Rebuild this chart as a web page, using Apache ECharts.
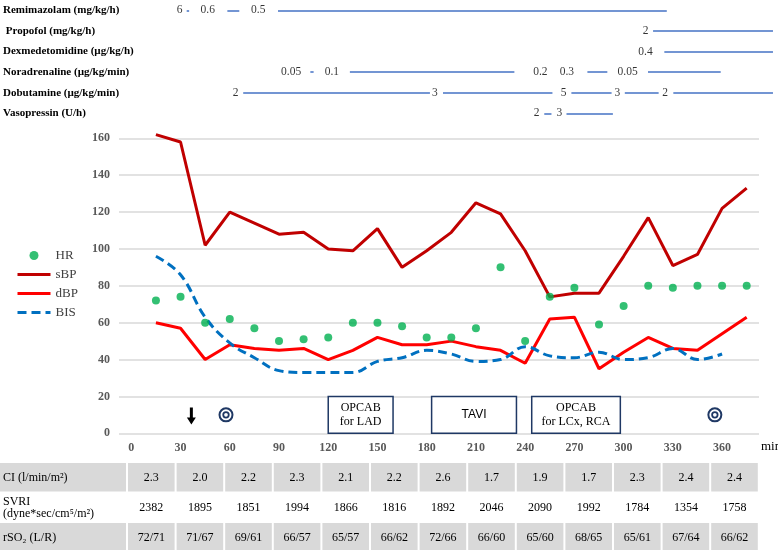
<!DOCTYPE html>
<html><head><meta charset="utf-8">
<script src="https://cdn.jsdelivr.net/npm/echarts@6/dist/echarts.min.js"></script>
<style>html,body{margin:0;padding:0;background:#fff}#c{width:778px;height:550px}</style>
</head><body><div id="c"></div>
<script>
// ---------- data ----------
const times = [15,30,45,60,75,90,105,120,135,150,165,180,195,210,225,240,255,270,285,300,315,330,345,360,375];
const hrValues  = [72,74,60,62,57,50,51,52,60,60,58,52,52,57,90,50,74,79,59,69,80,79,80,80,80];
const sbpValues = [162,158,102,120,114,108,109,100,99,111,90,99,109,125,119,99,74,76,76,96,117,91,97,122,133];
const dbpValues = [60,57,40,48,46,45,46,40,45,52,48,48,50,47,45,38,62,63,35,44,52,46,45,54,63];
const bisValues = [96,86,63,49,41,34,33,33,33,39,41,45,43,39,40,47,42,41,44,40,41,46,40,43,null];
const yTicks = [0,20,40,60,80,100,120,140,160];
const xTickLabels = [0,30,60,90,120,150,180,210,240,270,300,330,360];

const drugNames = ['Remimazolam (mg/kg/h)',' Propofol (mg/kg/h)','Dexmedetomidine (µg/kg/h)','Noradrenaline (µg/kg/min)','Dobutamine (µg/kg/min)','Vasopressin (U/h)'];
// dose labels: [time(min), text]; infusion segments: [start, end] in min
const remimazolamLabels = [[27.7,'6'],[45,'0.6'],[75.9,'0.5']];
const remimazolamSegs   = [[32.1,33.6],[57,64.3],[88,326]];
const propofolLabels    = [[313,'2']];
const propofolSegs      = [[317.6,391]];
const dexLabels         = [[313,'0.4']];
const dexSegs           = [[324.5,391]];
const noradLabels       = [[96,'0.05'],[121,'0.1'],[248.6,'0.2'],[264.8,'0.3'],[302,'0.05']];
const noradSegs         = [[107.8,109.8],[132,232.7],[277.4,289.6],[314.5,359]];
const dobutLabels       = [[62,'2'],[184,'3'],[262.8,'5'],[295.7,'3'],[325,'2']];
const dobutSegs         = [[66.7,181],[189,256],[267.6,292.2],[300.3,321],[330,391]];
const vasoLabels        = [[246.3,'2'],[260.3,'3']];
const vasoSegs          = [[251,255.4],[264.6,293]];

// events
const eventBoxes = [[120,159.5,'OPCAB\nfor LAD'],[183,234.7,'TAVI'],[244,298,'OPCAB\nfor LCx, RCA']];
const arrowMark = [36.6, 9.4];
const circleMarks = [[57.7,10],[355.6,10]];

// table
const tableRowLabels = ['CI (l/min/m²)','SVRI\n(dyne*sec/cm⁵/m²)','rSO₂ (L/R)'];
const ciValues   = ['2.3','2.0','2.2','2.3','2.1','2.2','2.6','1.7','1.9','1.7','2.3','2.4','2.4'];
const svriValues = ['2382','1895','1851','1994','1866','1816','1892','2046','2090','1992','1784','1354','1758'];
const rso2Values = ['72/71','71/67','69/61','66/57','65/57','66/62','72/66','66/60','65/60','68/65','65/61','67/64','66/62'];

// ---------- build ----------
const SERIF = "'Liberation Serif','Times New Roman',serif";
const NAVY = '#1F3864';
const pairs = (arr) => times.map((t,i)=>[t,arr[i]]).filter(p=>p[1]!=null);

const drugLabelSets = [remimazolamLabels,propofolLabels,dexLabels,noradLabels,dobutLabels,vasoLabels];
const drugSegSets = [remimazolamSegs,propofolSegs,dexSegs,noradSegs,dobutSegs,vasoSegs];
const drugLineData = [];
const drugTextData = [];
drugSegSets.forEach((segs,row)=>segs.forEach(s=>drugLineData.push({coords:[[s[0],row],[s[1],row]]})));
drugLabelSets.forEach((labs,row)=>labs.forEach(l=>drugTextData.push({value:[l[0],row],name:l[1]})));

const pxPerMin = 640/390;
const topMax = -7.5 + 659/pxPerMin;

// table graphic
const tTop = 463, rowH = 30, labelW = 127, colW = 48.6;
const tableRows = [ciValues, svriValues, rso2Values];
const rowFill = ['#D9D9D9','#FFFFFF','#D9D9D9'];
const graphics = [];
tableRows.forEach((vals,r)=>{
  const y = tTop + r*rowH;
  graphics.push({type:'rect',shape:{x:0,y:y,width:labelW-1,height:rowH-1.5},style:{fill:rowFill[r]},silent:true});
  graphics.push({type:'text',style:{x:3,y:y+rowH/2,text:tableRowLabels[r],font:'12px '+SERIF,fill:'#000',verticalAlign:'middle',align:'left',lineHeight:12},silent:true});
  vals.forEach((v,c)=>{
    const x = labelW + c*colW;
    graphics.push({type:'rect',shape:{x:x+1,y:y,width:colW-2,height:rowH-1.5},style:{fill:rowFill[r]},silent:true});
    graphics.push({type:'text',style:{x:x+colW/2,y:y+rowH/2,text:v,font:'12px '+SERIF,fill:'#000',align:'center',verticalAlign:'middle'},silent:true});
  });
});
graphics.push({type:'text',style:{x:761,y:447,text:'min',font:'13px '+SERIF,fill:'#000',verticalAlign:'middle',align:'left'},silent:true});

const lineLegend = (name)=>({name:name,itemStyle:{opacity:0},lineStyle:{width:3}});
const chart = echarts.init(document.getElementById('c'));
chart.setOption({
  animation:false,
  backgroundColor:'#fff',
  textStyle:{fontFamily:SERIF},
  legend:{
    data:['HR',lineLegend('sBP'),lineLegend('dBP'),lineLegend('BIS')],
    orient:'vertical', left:16, top:249, padding:0,
    itemWidth:33, itemHeight:9, itemGap:6,
    textStyle:{fontFamily:SERIF,fontSize:13,color:'#404040'}
  },
  grid:[
    {left:119, width:640, top:138.3, height:295},
    {left:119, width:659, top:-4.7, height:128.4}
  ],
  xAxis:[
    {type:'value',gridIndex:0,min:-7.5,max:382.5,interval:7.5,
     axisLine:{show:false},axisTick:{show:false},splitLine:{show:false},
     axisLabel:{margin:9,fontFamily:SERIF,fontWeight:'bold',fontSize:12,color:'#595959',
       formatter:(v)=> (xTickLabels.indexOf(Math.round(v))>=0 && Math.abs(v-Math.round(v))<1e-6) ? String(Math.round(v)) : ''}},
    {type:'value',gridIndex:1,min:-7.5,max:topMax,show:false}
  ],
  yAxis:[
    {type:'value',gridIndex:0,min:yTicks[0],max:yTicks[yTicks.length-1],interval:20,
     axisLine:{show:false},axisTick:{show:false},
     splitLine:{lineStyle:{color:'#D9D9D9',width:1.5}},
     axisLabel:{margin:9,fontFamily:SERIF,fontWeight:'bold',fontSize:12,color:'#595959'}},
    {type:'category',gridIndex:1,data:drugNames,inverse:true,
     axisLine:{show:false},axisTick:{show:false},splitLine:{show:false},
     axisLabel:{interval:0,align:'left',margin:119,fontFamily:SERIF,fontWeight:'bold',fontSize:11,color:'#000'}}
  ],
  series:[
    {name:'HR',type:'scatter',data:pairs(hrValues),symbolSize:8,itemStyle:{color:'#00B050'},z:5},
    {name:'sBP',type:'line',data:pairs(sbpValues),symbol:'none',clip:false,lineStyle:{color:'#C00000',width:3},itemStyle:{color:'#C00000'},z:3},
    {name:'dBP',type:'line',data:pairs(dbpValues),symbol:'none',clip:false,lineStyle:{color:'#FF0000',width:3},itemStyle:{color:'#FF0000'},z:3,
      markArea:{silent:true,
        itemStyle:{color:'#FFFFFF',borderColor:NAVY,borderWidth:1.5},
        label:{show:true,position:'inside',color:'#000',fontFamily:SERIF,fontSize:12,lineHeight:14},
        data:eventBoxes.map(b=>[{xAxis:b[0],yAxis:0,name:b[2],label:b[2]==='TAVI'?{fontFamily:"'Liberation Sans',Arial,sans-serif",fontSize:12}:{}},{xAxis:b[1],yAxis:20}])},
      markPoint:{silent:true,
        data:[
          {coord:arrowMark,symbol:'path://M3,0 L6,0 L6,10 L9,10 L4.5,17 L0,10 L3,10 Z',symbolSize:[9,17],itemStyle:{color:'#000'},label:{show:false}},
          ...circleMarks.map(c=>({coord:c,symbol:'circle',symbolSize:13,itemStyle:{color:'#FFFFFF',borderColor:NAVY,borderWidth:2},label:{show:false}})),
          ...circleMarks.map(c=>({coord:c,symbol:'circle',symbolSize:5.5,itemStyle:{color:'#FFFFFF',borderColor:NAVY,borderWidth:1.8},label:{show:false}}))
        ]}
    },
    {name:'BIS',type:'line',data:pairs(bisValues),symbol:'none',smooth:0.4,lineStyle:{color:'#0070C0',width:3,type:[9,5]},itemStyle:{color:'#0070C0'},z:4},
    {name:'drugLines',type:'lines',coordinateSystem:'cartesian2d',xAxisIndex:1,yAxisIndex:1,data:drugLineData,
      lineStyle:{color:'#4472C4',width:1.5,opacity:1},silent:true},
    {name:'drugDoses',type:'scatter',xAxisIndex:1,yAxisIndex:1,data:drugTextData,symbolSize:1,itemStyle:{color:'rgba(0,0,0,0)'},silent:true,
      label:{show:true,position:'inside',formatter:'{b}',color:'#000',fontFamily:SERIF,fontSize:11.5}}
  ],
  graphic:graphics
});
</script></body></html>
